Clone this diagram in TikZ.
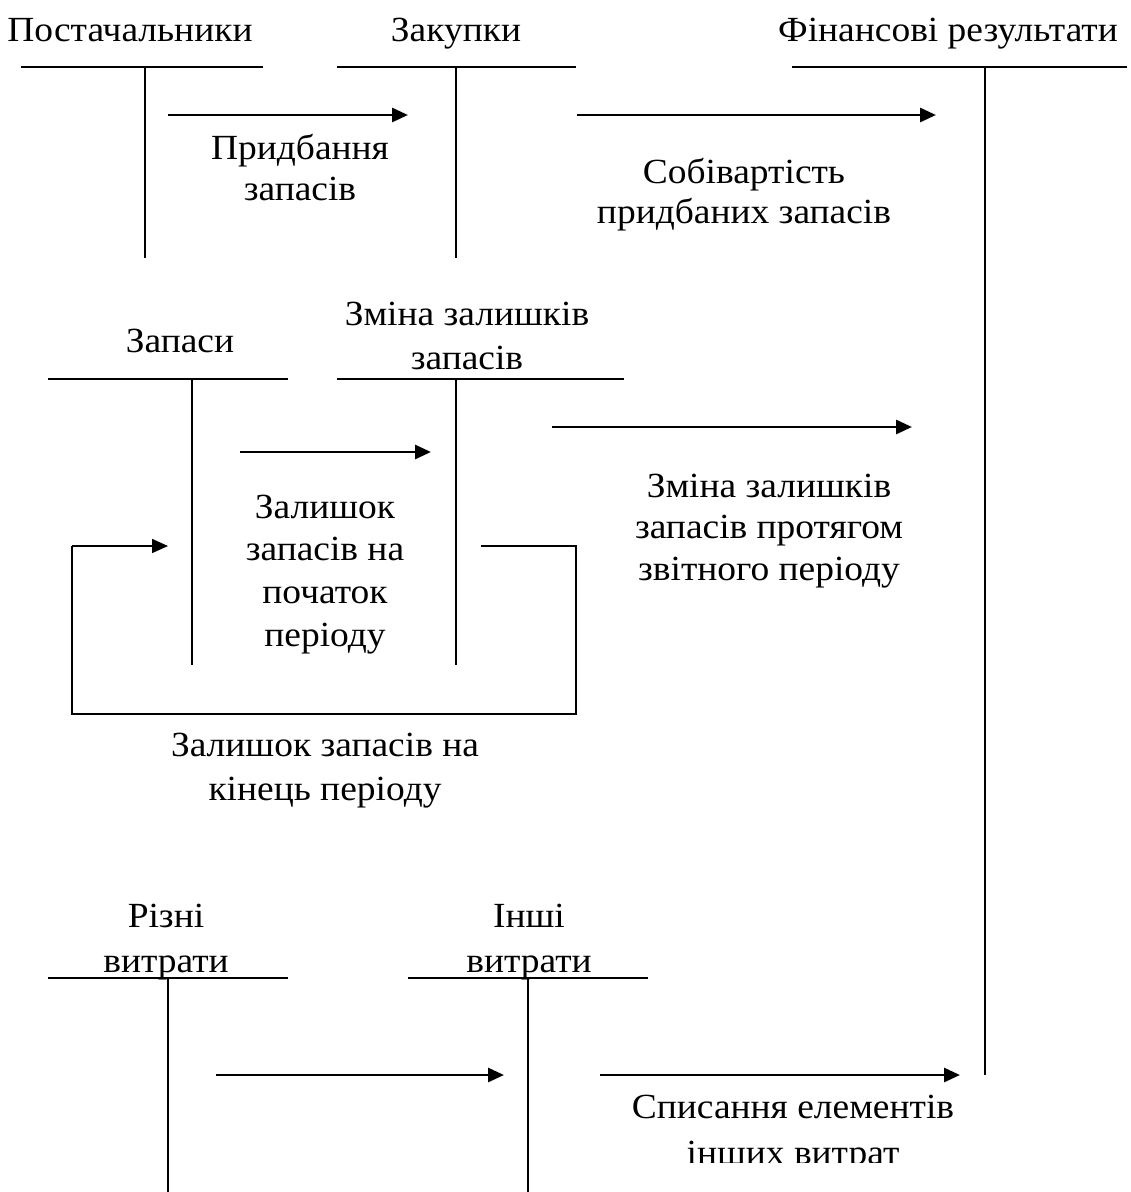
\documentclass[tikz,border=0pt]{standalone}
\usepackage{fontspec}
\setmainfont{Liberation Serif}[FakeStretch=1.06]
\usetikzlibrary{arrows.meta}
% leading of a label, in pt
\newcommand{\lblfont}[1]{\fontsize{26.5}{#1}\selectfont}
\begin{document}
\begin{tikzpicture}[x=0.75pt,y=-0.75pt,
  lbl/.style={align=center,inner sep=0pt,anchor=base,font=\lblfont{30.75}},
  hline/.style={line width=1.3pt},
  vline/.style={line width=1pt},
  flow/.style={line width=2.2pt,-{Triangle[length=12pt,width=10.5pt]}},
  loopline/.style={line width=1.2pt}]
\useasboundingbox (0,0) rectangle (1131,1192);

% labels are placed by the baseline of their last line

% --- T-accounts: top row ---
\node[lbl] (post) at (130,41) {Постачальники};
\draw[hline] (21,67) -- (263,67);
\draw[vline] (145,67) -- (145,258);
\node[lbl] (zak) at (456,41) {Закупки};
\draw[hline] (337,67) -- (576,67);
\draw[vline] (456,67) -- (456,258);
\node[lbl] (fin) at (948,41) {Фінансові результати};
\draw[hline] (792,67) -- (1127,67);
\draw[vline] (985,67) -- (985,1075);

\coordinate (a1s) at (168,115); \coordinate (a1e) at (408,115);
\draw[flow] (a1s) -- (a1e);
\node[lbl,font=\lblfont{30.75}] (pryd) at (300,200) {Придбання\\запасів};
\coordinate (a2s) at (577,115); \coordinate (a2e) at (936,115);
\draw[flow] (a2s) -- (a2e);
\node[lbl,font=\lblfont{30}] (sob) at (744,223) {Собівартість\\придбаних запасів};

% --- T-accounts: middle row ---
\node[lbl] (zap) at (180,352) {Запаси};
\draw[hline] (48,379) -- (288,379);
\draw[vline] (192,379) -- (192,665);
\node[lbl,font=\lblfont{33}] (zmina) at (467,369) {Зміна залишків\\запасів};
\draw[hline] (337,379) -- (624,379);
\draw[vline] (456,379) -- (456,665);

\coordinate (a3s) at (240,452); \coordinate (a3e) at (431,452);
\draw[flow] (a3s) -- (a3e);
\coordinate (a4s) at (552,427); \coordinate (a4e) at (912,427);
\draw[flow] (a4s) -- (a4e);
\node[lbl,font=\lblfont{31.9}] (pochatok) at (325,646) {Залишок\\запасів на\\початок\\періоду};
\node[lbl,font=\lblfont{31.1}] (protyagom) at (769,580) {Зміна залишків\\запасів протягом\\звітного періоду};

% closing balance carried back as the opening balance
\coordinate (l1) at (481,546); \coordinate (l2) at (576,546);
\coordinate (l3) at (576,714); \coordinate (l4) at (72,714);
\coordinate (l5) at (72,546); \coordinate (l6) at (168,546);
\draw[loopline] (l1) -- (l2) -- (l3) -- (l4) -- (l5);
\draw[loopline,-{Triangle[length=12pt,width=10.5pt]}] (l5) -- (l6);
\node[lbl,font=\lblfont{33}] (kinets) at (325,800) {Залишок запасів на\\кінець періоду};

% --- T-accounts: bottom row ---
\node[lbl,font=\lblfont{33.75}] (rizni) at (166,972) {Різні\\витрати};
\draw[hline] (48,978) -- (288,978);
\draw[vline] (168,978) -- (168,1192);
\node[lbl,font=\lblfont{33.75}] (inshi) at (529,972) {Інші\\витрати};
\draw[hline] (408,978) -- (648,978);
\draw[vline] (528,978) -- (528,1192);

\coordinate (a5s) at (216,1075); \coordinate (a5e) at (504,1075);
\draw[flow] (a5s) -- (a5e);
\coordinate (a6s) at (600,1075); \coordinate (a6e) at (960,1075);
\draw[flow] (a6s) -- (a6e);
% the text frame cuts off the foot of the second line
\begin{scope}
  \clip (560,1085) rectangle (1131,1162);
  \node[lbl,font=\lblfont{34}] (spys) at (793,1164) {Списання елементів\\інших витрат};
\end{scope}
\end{tikzpicture}
\end{document}
